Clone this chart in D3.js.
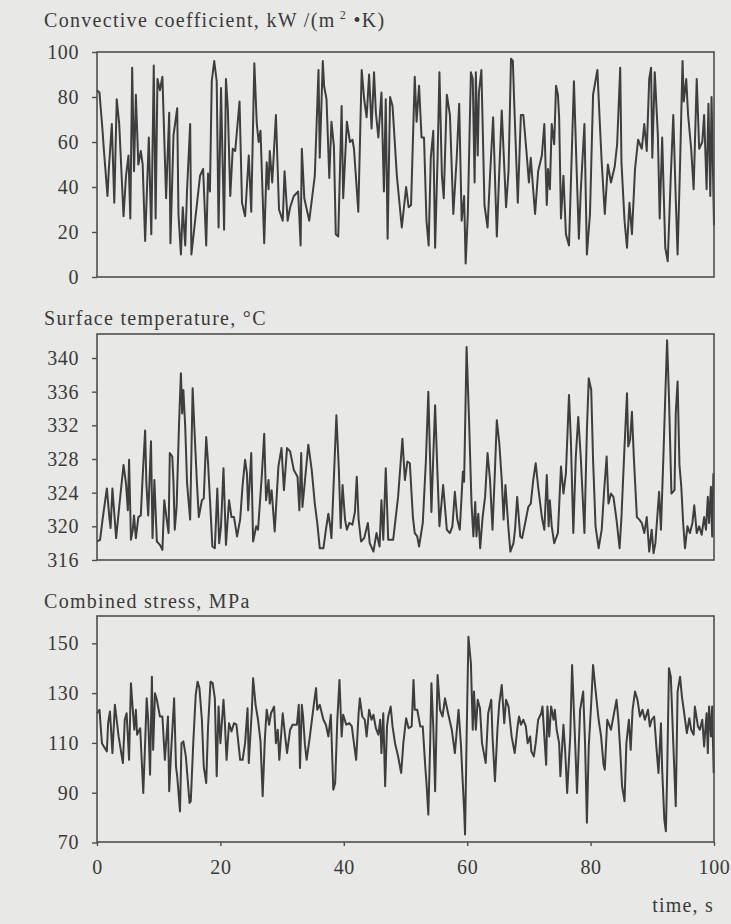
<!DOCTYPE html>
<html><head><meta charset="utf-8">
<script src="https://cdn.jsdelivr.net/npm/d3@7"></script>
<style>
body{margin:0;background:#e8e8e6;}
svg{display:block;}
text{font-family:"Liberation Serif","Times New Roman",Times,"DejaVu Serif",serif;fill:#3a3a3a;}
</style>
</head><body>
<svg id="c" width="731" height="924"></svg>
<script>
// ---------- DATA ----------
const xTicks = [0, 20, 40, 60, 80, 100];
const hcTicks = [0, 20, 40, 60, 80, 100];
const tempTicks = [316, 320, 324, 328, 332, 336, 340];
const stressTicks = [70, 90, 110, 130, 150];

const hcTime = [0,0.4,0.9,1.1,1.7,1.9,2.4,2.8,3.2,3.6,4.3,4.7,5.1,5.4,5.7,6.0,6.3,6.7,7.1,7.4,7.8,8.4,8.8,9.2,9.5,9.8,10.2,10.6,11.2,11.7,11.9,12.4,13.0,13.2,13.6,13.9,14.3,14.6,15.1,15.3,16.1,16.7,17.2,17.7,18.0,18.3,18.6,19.0,19.4,19.7,20.1,20.6,20.9,21.2,21.6,22.0,22.4,23.1,23.5,24.0,24.6,25.0,25.5,25.9,26.2,26.5,27.1,27.5,27.8,28.0,28.4,29.0,29.5,30.1,30.4,30.9,31.3,31.9,32.6,33.0,33.2,
33.6,34.4,35.3,35.9,36.1,36.6,36.8,37.2,37.65,38.0,38.4,38.7,39.1,39.65,39.9,40.5,41.0,41.4,41.65,42.35,42.9,43.3,43.7,44.1,44.5,44.9,45.2,45.6,46.1,46.5,46.8,47.1,47.5,47.9,48.6,49.4,50.1,50.5,50.9,51.5,51.8,52.2,52.6,53.0,53.4,53.75,54.1,54.5,54.8,55.2,55.5,55.9,56.2,56.7,57.2,57.75,58.3,58.7,59.1,59.5,59.75,60.1,60.6,60.9,61.2,61.4,61.7,61.9,62.3,62.8,63.3,63.7,64.2,64.8,65.2,65.6,66.3,66.7,67.1,67.4,
67.6,68.2,68.7,69.1,69.6,70.0,70.3,71.0,71.5,72.1,72.5,72.9,73.1,73.4,73.7,74.1,74.4,74.7,74.9,75.2,75.6,76.0,76.5,77.3,77.7,78.1,78.4,79.0,79.4,79.9,80.4,81.1,81.5,81.8,82.3,82.8,83.3,83.9,84.3,84.8,85.0,85.5,85.9,86.3,86.7,87.2,87.7,88.3,88.7,89.1,89.5,89.8,90.0,90.4,90.9,91.2,91.6,92.1,92.5,93.0,93.4,93.8,94.1,94.5,94.9,95.1,95.5,95.8,96.3,96.7,97.2,97.6,98.1,98.4,98.8,99.1,99.4,99.6,100];
const hcValue = [83,82,65,57,36,47,68,33,79,68,27,45,54,26,93,47,81,50,56,50,16,62,19,94,26,88,83,89,35,73,15,63,75,28,10,31,14,39,68,10,30,45,48,14,46,38,87,96,87,22,84,21,88,75,36,57,56,78,33,27,54,29,95,68,60,65,15,51,39,56,42,72,30,25,47,25,31,36,38,14,57,
35,25,45,92,53,96,85,79,44,69,58,19,18,76,35,69,60,61,57,29,92,79,71,90,66,91,73,62,82,38,79,17,80,76,45,22,40,31,32,89,69,85,62,62,25,14,53,65,13,53,91,45,35,81,72,28,53,77,25,36,6,28,91,88,42,91,54,82,92,32,22,45,71,18,47,74,31,47,97,96,
79,33,72,72,56,42,53,28,47,54,68,32,48,39,68,59,85,81,71,26,45,19,14,87,51,17,38,68,10,28,81,92,68,51,28,50,42,49,59,93,51,25,13,33,19,48,61,57,68,56,88,93,53,91,63,26,62,13,7,45,72,35,10,50,96,78,88,72,57,39,88,57,60,72,39,77,36,80,23];

const tempTime = [0,0.5,0.9,1.6,2.0,2.2,2.5,3.1,3.6,4.3,4.7,5.0,5.2,5.5,5.8,6.0,6.3,6.7,7.1,7.4,7.8,8.0,8.3,8.75,9.0,9.3,9.7,10.2,10.6,10.9,11.3,11.6,11.8,12.2,12.4,12.6,12.9,13.3,13.6,13.8,14.0,14.3,14.6,15.1,15.5,15.8,16.2,16.5,17.0,17.3,17.7,18.0,18.4,18.7,19.1,19.5,19.8,20.1,20.5,20.9,21.4,21.8,22.2,22.7,23.2,23.6,24.0,24.3,24.5,25.0,25.3,25.8,26.1,26.7,27.1,27.4,27.8,28.0,28.3,28.8,29.4,29.9,30.3,30.8,31.3,31.9,32.5,32.8,33.1,33.3,
34.25,34.8,35.3,35.7,36.1,36.7,37.1,37.5,37.8,38.0,38.4,38.8,39.2,39.5,39.8,40.2,40.5,40.9,41.4,41.8,42.1,42.4,42.8,43.3,43.9,44.2,44.8,45.3,45.8,46.1,46.4,46.8,47.2,48.0,48.8,49.5,49.9,50.3,50.7,51.2,51.5,51.9,52.2,52.8,53.3,53.7,54.0,54.2,54.5,54.8,55.2,55.5,56.1,56.7,57.2,57.6,58.0,58.4,58.8,59.3,59.5,59.9,60.3,60.7,61.0,61.3,61.5,61.8,62.1,62.5,62.9,63.3,63.7,64.1,64.5,64.8,65.2,65.6,65.9,66.2,66.7,67.0,67.5,
67.75,68.1,68.6,68.9,69.4,69.9,70.3,70.7,71.1,71.5,72.1,72.5,72.9,73.2,73.4,73.7,74.1,74.7,75.2,75.6,76.0,76.5,76.8,77.2,77.6,78.0,78.4,79.0,79.4,79.7,80.1,80.4,80.8,81.3,81.8,82.2,82.6,82.9,83.3,83.7,84.2,84.7,85.0,85.5,85.9,86.1,86.4,86.7,87.0,87.5,87.9,88.3,88.7,89.1,89.5,89.9,90.2,90.5,91.1,91.4,91.8,92.1,92.4,92.7,93.1,93.6,93.8,94.1,94.4,94.7,95.0,95.3,95.7,96.1,96.5,96.8,97.2,97.6,98.0,98.4,98.7,99.0,99.2,99.5,99.7,99.9];
const tempValue = [318.2,318.4,320.8,324.5,321.1,319.8,324.5,318.6,322.3,327.3,325.1,321.9,327.9,318.4,319.6,321.3,318.6,321.1,321.3,325.9,331.4,325.1,321.3,330.1,318.6,325.5,318.2,317.8,317.2,323.1,320.8,319.2,328.7,328.3,325.1,319.6,322.3,332.2,338.2,333.4,336.2,331.8,325.1,320.8,336.4,331.4,325.1,321.1,323.1,323.3,330.6,327.5,321.9,317.6,317.4,324.5,318.0,320.0,326.9,317.8,323.1,321.1,321.1,318.8,320.8,324.9,327.9,326.3,321.9,328.7,318.2,320.0,319.6,325.9,331.0,323.1,325.5,322.7,324.3,319.4,327.1,329.3,324.3,329.3,328.9,326.7,325.9,321.9,328.7,322.3,
329.7,326.7,322.7,320.4,317.4,317.4,319.6,321.5,320.0,318.6,325.9,333.2,326.7,319.8,324.9,320.8,319.6,320.4,320.2,321.7,325.9,320.8,318.2,318.6,320.4,318.0,317.0,319.2,317.6,323.1,318.4,326.9,318.4,318.4,323.5,330.4,325.5,327.7,327.5,321.1,319.2,318.8,317.6,320.4,327.7,336.0,327.5,321.7,328.3,334.4,325.9,320.0,324.9,319.6,319.2,320.0,324.1,320.8,319.6,326.5,325.3,341.3,332.6,322.7,318.8,322.9,318.8,321.5,317.4,321.1,323.5,328.7,325.5,319.6,326.7,332.6,329.9,325.5,320.8,324.9,319.6,317.0,318.0,
319.6,323.5,318.8,318.6,320.4,322.3,322.7,325.5,327.5,324.7,321.1,319.6,326.1,320.0,323.1,320.0,318.0,319.2,327.1,323.9,326.3,335.6,330.3,319.2,328.3,333.0,328.3,319.2,331.4,337.6,336.2,327.9,320.0,317.4,319.6,324.3,328.3,322.7,323.9,323.5,320.8,317.4,321.1,329.5,335.8,329.5,330.3,333.6,328.3,321.1,320.8,320.4,319.2,321.1,317.0,319.6,316.8,318.0,324.1,319.6,328.3,335.4,342.1,335.4,323.9,324.3,333.4,337.2,327.3,324.7,320.4,317.4,320.0,319.2,320.4,322.5,319.2,320.0,319.0,321.1,319.6,323.5,320.4,324.7,318.8,326.3];

const stressTime = [0,0.4,0.8,1.1,1.6,1.8,2.1,2.5,2.9,3.5,4.2,4.5,4.8,5.2,5.5,5.8,6.05,6.3,6.5,7.0,7.5,7.8,8.05,8.3,8.6,8.9,9.1,9.4,9.7,10.2,10.6,11.0,11.5,11.7,12.0,12.5,12.8,13.0,13.45,13.7,14.0,14.4,15.0,15.2,15.6,16.0,16.3,16.6,17.0,17.3,17.7,18.0,18.4,18.75,19.1,19.4,19.7,20.0,20.5,20.7,21.0,21.4,21.8,22.2,22.6,23.2,23.6,24.0,24.4,24.6,25.1,25.3,25.7,26.1,26.5,26.85,27.2,27.5,27.9,28.2,28.7,29.0,29.3,29.55,30.1,30.5,30.8,31.3,31.7,32.4,32.7,32.9,33.2,33.4,33.7,
33.98,34.5,35.1,35.5,35.7,36.1,36.7,37.1,37.5,37.9,38.3,38.6,38.95,39.3,39.65,39.9,40.4,40.9,41.3,41.5,42.0,42.4,42.6,43.0,43.4,43.7,44.1,44.5,44.8,45.2,45.6,45.9,46.1,46.4,46.7,47.0,47.2,47.6,47.9,48.3,48.8,49.3,49.65,50.1,50.5,51.0,51.3,51.5,51.9,52.4,52.8,53.2,53.4,53.7,54.0,54.2,54.5,54.8,55.2,55.6,56.0,56.4,56.9,57.5,58.0,58.6,59.0,59.2,59.5,59.65,59.9,60.2,60.6,60.9,61.1,61.4,61.7,62.07,62.4,63.0,63.4,63.9,64.1,64.5,64.9,65.2,65.6,66.0,66.3,66.7,67.2,67.7,
68.2,68.4,68.7,69.1,69.5,69.8,70.2,70.4,70.8,71.1,71.5,72.0,72.2,72.5,72.8,73.0,73.3,73.6,74.0,74.2,74.5,74.9,75.1,75.6,75.9,76.2,76.7,77.0,77.5,77.8,78.3,78.8,79.1,79.4,79.7,80.1,80.4,80.8,81.3,81.7,82.1,82.3,82.7,83.0,83.3,83.7,84.2,84.5,84.8,85.1,85.5,85.8,86.2,86.5,86.8,87.2,87.6,88.0,88.4,88.8,89.3,89.6,89.9,90.3,90.7,91.0,91.4,91.6,91.95,92.2,92.4,92.7,93.0,93.4,93.8,94.1,94.5,94.8,95.1,95.6,96.0,96.3,96.7,96.9,97.4,97.7,98.1,98.4,98.8,99.0,99.2,99.5,99.7,99.95];
const stressValue = [121.9,123.3,109.9,108.6,106.6,117.9,122.6,105.9,125.3,112.6,101.9,119.3,121.9,103.2,134.0,123.3,115.3,123.3,113.3,115.9,89.9,109.9,127.9,119.3,97.2,136.6,107.2,129.9,127.3,120.6,120.6,103.2,120.6,90.6,105.9,127.9,100.6,96.6,82.5,109.9,110.6,104.6,85.9,86.6,109.9,129.3,134.6,132.0,119.3,100.6,93.9,116.6,134.6,134.0,127.9,96.6,124.6,109.9,127.3,119.3,103.2,117.9,114.6,117.9,117.3,103.2,103.2,109.9,123.9,101.9,123.3,136.0,125.3,119.3,110.6,88.6,111.3,123.3,117.3,121.9,124.6,109.9,115.3,103.2,121.9,112.6,105.9,115.3,117.3,117.3,125.3,99.9,125.3,120.6,109.3,
103.2,112.6,124.6,132.0,123.3,125.3,119.3,117.3,112.6,121.3,91.2,93.9,119.3,135.3,112.6,121.3,117.3,117.9,116.6,112.6,103.2,121.9,127.9,120.6,119.3,112.6,123.3,119.3,121.3,115.9,113.3,119.3,105.9,121.9,92.6,116.6,120.6,124.6,116.6,109.9,104.6,97.9,109.9,119.9,115.9,116.6,135.3,123.3,123.3,116.6,116.6,100.6,93.9,81.2,109.9,134.0,116.6,90.6,137.3,123.3,120.6,127.9,121.9,115.3,105.9,123.3,108.6,97.9,83.2,73.2,111.3,152.6,142.0,115.3,130.6,115.3,127.3,123.9,109.9,101.9,121.9,127.3,112.6,94.6,115.3,125.9,133.3,117.9,127.3,124.6,112.6,105.9,
117.3,120.6,117.3,119.3,116.6,109.9,112.6,106.6,104.6,109.9,119.3,121.9,124.6,112.6,101.2,124.6,112.6,124.6,119.3,123.3,115.3,109.9,96.6,117.3,105.9,89.9,112.6,141.3,109.9,89.9,123.3,130.6,109.9,77.9,108.6,125.9,141.3,131.3,119.3,112.6,101.2,99.2,119.3,117.3,115.3,120.6,127.3,119.3,107.2,92.6,86.6,109.9,119.3,107.2,123.3,130.6,127.3,120.6,123.3,119.3,123.3,116.6,119.3,120.6,107.2,97.9,117.9,99.2,79.2,74.5,96.6,140.0,136.6,109.9,84.6,130.6,136.6,128.6,123.3,113.9,119.9,115.3,113.3,124.6,116.6,115.3,119.3,108.6,121.9,105.9,124.6,112.6,124.6,97.9];

// ---------- CHART ----------
const FONT = '"Liberation Serif","Times New Roman",Times,"DejaVu Serif",serif';
const svg = d3.select("#c");
const xL = 97, xR = 714;
const x = d3.scaleLinear().domain([0, 100]).range([xL, xR]);

const panels = [
  {title: "hc", time: hcTime, value: hcValue, ticks: hcTicks, dom: [0, 100], rng: [277, 52], top: 52, bottom: 277, titleY: 27},
  {title: "Surface temperature, °C", time: tempTime, value: tempValue, ticks: tempTicks, dom: [316, 340], rng: [560, 358], top: 334, bottom: 560, titleY: 325},
  {title: "Combined stress, MPa", time: stressTime, value: stressValue, ticks: stressTicks, dom: [70, 150], rng: [842.5, 643.3], top: 616, bottom: 842, titleY: 608}
];

panels.forEach((p, i) => {
  const y = d3.scaleLinear().domain(p.dom).range(p.rng);
  const g = svg.append("g");

  const data = p.time.map((t, k) => [t, p.value[k]]);
  g.append("path")
    .datum(data)
    .attr("fill", "none")
    .attr("stroke", "#3e3e3e")
    .attr("stroke-width", 2.0)
    .attr("stroke-linejoin", "round")
    .attr("d", d3.line().x(d => x(d[0])).y(d => y(d[1])));

  g.append("rect")
    .attr("x", xL).attr("y", p.top)
    .attr("width", xR - xL).attr("height", p.bottom - p.top)
    .attr("fill", "none").attr("stroke", "#4e4e4e").attr("stroke-width", 1.6);

  const ya = g.append("g").attr("transform", `translate(${xL},0)`)
    .call(d3.axisLeft(y).tickValues(p.ticks).tickSize(5).tickPadding(13).tickFormat(d3.format("d")));
  ya.attr("font-family", FONT);
  ya.select(".domain").remove();
  ya.selectAll("line").attr("stroke", "#4e4e4e").attr("stroke-width", 1.4);
  ya.selectAll("text").attr("font-size", 20).attr("letter-spacing", 0.6)
    .style("font-family", FONT).attr("fill", "#3a3a3a");

  const tt = svg.append("text").attr("x", 44).attr("y", p.titleY)
    .attr("font-size", 20).attr("letter-spacing", 1.3).style("font-family", FONT);
  if (p.title === "hc") {
    tt.append("tspan").text("Convective coefficient, kW /(m");
    tt.append("tspan").attr("dy", -8).attr("font-size", 12).text(" 2");
    tt.append("tspan").attr("dy", 8).text(" •K)");
  } else {
    tt.text(p.title);
  }

  if (i === 2) {
    const xa = g.append("g").attr("transform", `translate(0,${p.bottom})`)
      .call(d3.axisBottom(x).tickValues(xTicks).tickSize(4).tickPadding(14));
    xa.attr("font-family", FONT);
    xa.select(".domain").remove();
    xa.selectAll("line").attr("stroke", "#4e4e4e").attr("stroke-width", 1.4);
    xa.selectAll("text").attr("font-size", 20).attr("letter-spacing", 0.6)
      .style("font-family", FONT).attr("fill", "#3a3a3a");
  }
});

svg.append("text").attr("x", 714).attr("y", 912).attr("text-anchor", "end")
  .attr("font-size", 20).attr("letter-spacing", 1.2).style("font-family", FONT).text("time, s");
</script>
</body></html>
